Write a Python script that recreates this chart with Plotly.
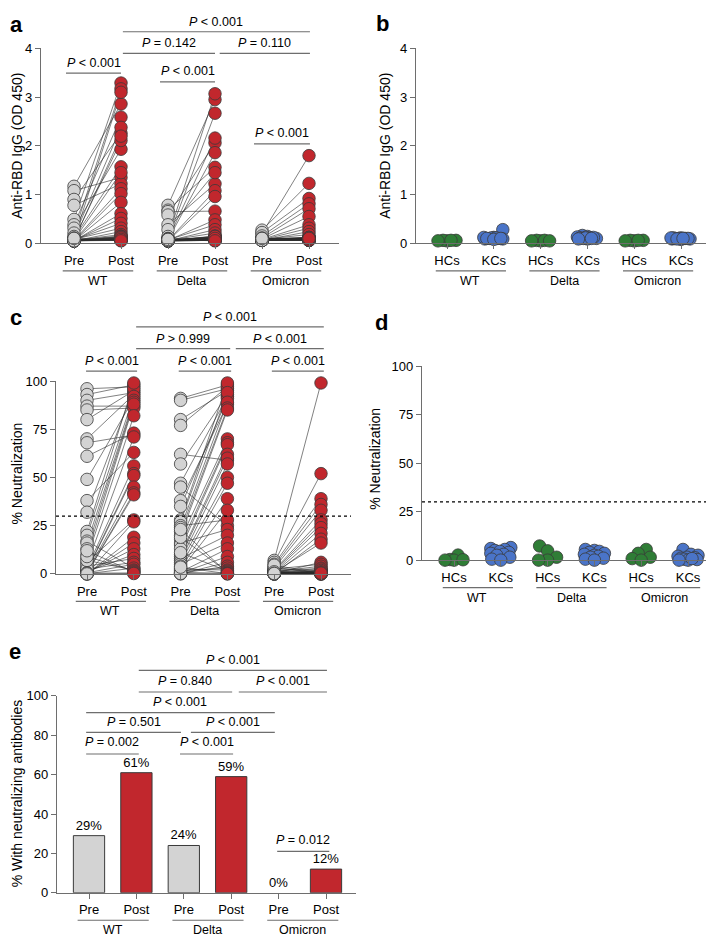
import math
import plotly.graph_objects as go

W, H = 714, 937
FONT = "Liberation Sans, Arial, sans-serif"

# ---------------- data ----------------
variants = ["WT", "Delta", "Omicron"]
ticks_pp = ["Pre", "Post", "Pre", "Post", "Pre", "Post"]
ticks_hk = ["HCs", "KCs", "HCs", "KCs", "HCs", "KCs"]

# panel a: anti-RBD IgG (OD 450), paired pre/post (n = 41)
a_wt_pre = [1.17, 1.08, 0.90, 0.78, 0.49, 0.38, 0.31, 0.21, 0.14, 0.11, 0.09, 0.08, 0.07, 0.06, 0.06, 0.05, 0.05, 0.05, 0.06, 0.07, 0.08,
            0.05, 0.06, 0.05, 0.07, 0.06, 0.05, 0.08, 0.06, 0.05, 0.07, 0.05, 0.06, 0.09, 0.05, 0.06, 0.07, 0.05, 0.06, 0.05, 0.10]
a_wt_post = [2.86, 1.35, 2.26, 1.22, 3.29, 2.59, 1.93, 3.17, 2.38, 1.57, 3.10, 2.11, 1.45, 2.20, 1.12, 1.02, 0.84, 0.61, 0.51, 0.41, 0.31,
             0.24, 0.18, 0.11, 0.06, 0.15, 0.10, 0.08, 0.12, 0.09, 0.07, 0.14, 0.10, 0.08, 0.06, 0.13, 0.09, 0.07, 0.11, 0.08, 0.05]
a_delta_pre = [0.78, 0.68, 0.65, 0.58, 0.38, 0.28, 0.14, 0.10, 0.08, 0.07, 0.06, 0.05, 0.06, 0.07, 0.05, 0.06, 0.05, 0.08, 0.06, 0.05, 0.07,
               0.05, 0.06, 0.09, 0.05, 0.06, 0.07, 0.05, 0.06, 0.05, 0.08, 0.06, 0.05, 0.07, 0.06, 0.05, 0.06, 0.07, 0.05, 0.06, 0.08]
a_delta_post = [2.95, 1.56, 0.66, 2.06, 1.22, 1.45, 3.07, 2.67, 2.16, 1.86, 1.08, 0.96, 0.48, 0.38, 0.28, 0.21, 0.14, 0.07, 0.12, 0.10, 0.09,
                0.15, 0.08, 0.11, 0.06, 0.13, 0.10, 0.09, 0.07, 0.12, 0.08, 0.11, 0.06, 0.10, 0.09, 0.07, 0.14, 0.08, 0.06, 0.10, 0.05]
a_om_pre = [0.20, 0.27, 0.22, 0.15, 0.11, 0.09, 0.08, 0.07, 0.06, 0.08, 0.07, 0.06, 0.09, 0.08, 0.07, 0.06, 0.08, 0.07, 0.06, 0.09, 0.08,
            0.07, 0.06, 0.08, 0.07, 0.06, 0.09, 0.08, 0.07, 0.06, 0.08, 0.07, 0.06, 0.09, 0.08, 0.07, 0.06, 0.08, 0.07, 0.06, 0.10]
a_om_post = [1.80, 1.23, 0.92, 0.81, 0.71, 0.55, 0.38, 0.31, 0.24, 0.18, 0.11, 0.09, 0.12, 0.08, 0.10, 0.07, 0.09, 0.11, 0.08, 0.06, 0.10,
             0.09, 0.07, 0.12, 0.08, 0.06, 0.10, 0.09, 0.07, 0.11, 0.08, 0.06, 0.10, 0.09, 0.07, 0.12, 0.08, 0.06, 0.09, 0.07, 0.10]

# panel b: anti-RBD IgG (OD 450), healthy (HCs) / kidney (KCs) controls
b_hc_wt = [0.06, 0.05, 0.06, 0.05, 0.06]
b_kc_wt = [0.28, 0.12, 0.10, 0.11, 0.09, 0.10, 0.12, 0.09, 0.10, 0.11, 0.08, 0.10]
b_hc_delta = [0.05, 0.06, 0.05, 0.06, 0.05]
b_kc_delta = [0.16, 0.14, 0.13, 0.12, 0.11, 0.10, 0.09, 0.12, 0.10, 0.11, 0.09, 0.10]
b_hc_om = [0.06, 0.05, 0.06, 0.05, 0.06]
b_kc_om = [0.11, 0.10, 0.09, 0.10, 0.11, 0.09, 0.10, 0.08, 0.11, 0.10, 0.09, 0.10]

# panel c: % neutralization, paired pre/post (n = 41)
c_wt_pre = [96, 93, 90, 87, 85, 80, 70, 68, 61, 49, 38, 32,
            22, 20, 17, 16, 13, 10, 8, 6, 5, 3, 2, 1.5, 1, 0.5, 0.3, 0, 0, 0.2, 0.8, 1.2, 4, 2.5, 0.6, 0.1, 7, 9, 12, 0.4, 0]
c_wt_post = [97, 98, 94, 87, 86, 95, 93, 72, 73, 91, 63, 96,
             99, 92, 3, 90, 89, 88, 82, 28, 71, 56, 52, 51, 45, 42, 41, 27, 19, 16, 13, 10, 8, 6, 5, 3, 2, 1.5, 1, 0.5, 0.2]
c_delta_pre = [91, 90, 80, 77, 62, 57, 47, 45, 38, 35,
               28, 27, 25, 24, 22, 20, 18, 16, 15, 13, 10, 9, 8, 7, 6, 5, 4, 3, 2, 1, 0.5, 0, 0.3, 1.5, 2.5, 11, 19, 23, 0.8, 0.2, 3.5]
c_delta_post = [98, 96, 95, 97, 59, 93, 92, 25, 88, 91,
                99, 94, 28, 89, 86, 85, 70, 23, 68, 67, 62, 60, 20, 57, 50, 16, 47, 39, 33, 13, 9, 6, 4, 3, 2, 1.5, 1, 0.5, 0.3, 0, 0.1]
c_om_pre = [7, 6, 5, 4, 3, 2, 1.5, 1, 0.5, 0, 0.8, 0.3, 2.5, 1.2, 0.6, 0.2, 0, 0.4, 1.8, 0.9, 0.1,
            3.5, 0.7, 0.3, 0, 1, 0.5, 2.2, 0.2, 0.6, 0, 1.4, 0.8, 0.3, 4.5, 0.1, 0.5, 0, 1.1, 0.4, 0.2]
c_om_post = [99, 52, 39, 36, 33, 28, 26, 24, 21, 18, 16, 6, 5, 4, 3, 2, 1.5, 1, 0.5, 0.2, 0,
             0.3, 0.8, 1.2, 0.6, 0.1, 0, 2.5, 0.4, 0.9, 0.2, 1.8, 0.7, 0, 0.3, 0.5, 1.1, 0.2, 0, 0.6, 0.4]

# panel d: % neutralization, controls
d_hc_wt = [2.6, 0.3, 0.0, 0.0, 0.2]
d_kc_wt = [6.5, 6.0, 5.5, 5.0, 4.5, 4.0, 3.5, 3.0, 2.5, 1.5, 0.5, 0.0]
d_hc_delta = [7.3, 4.8, 1.5, 0.0, 0.0]
d_kc_delta = [5.5, 5.0, 4.5, 4.0, 3.5, 3.0, 2.5, 2.0, 1.5, 1.0, 0.5, 0.0]
d_hc_om = [5.5, 3.5, 1.5, 0.8, 0.0]
d_kc_om = [5.5, 3.0, 2.5, 2.0, 1.5, 1.2, 1.0, 0.5, 0.3, 0.0, 0.0, 0.8]

# panel e: % with neutralizing antibodies
e_values = [29, 61, 24, 59, 0, 12]

# ---------------- style ----------------
GREY = "#D3D3D3"
RED = "#C1272D"
GREEN = "#2F7D36"
BLUE = "#4A74C8"
OUTLINE = "#3A3A3A"
AXC = "#6E6E6E"

# panel geometry (pixels)
panels = {
    "a": dict(n=1, xd=(33, 331), yd=(34, 232), c0=66, sp=47.0, yr=[0, 4], ytv=[0, 1, 2, 3, 4], tt=ticks_pp),
    "b": dict(n=2, xd=(408, 703), yd=(34, 232), c0=439, sp=46.8, yr=[0, 4], ytv=[0, 1, 2, 3, 4], tt=ticks_hk),
    "c": dict(n=3, xd=(48, 343), yd=(372, 568), c0=79, sp=46.8, yr=[0, 100], ytv=[0, 25, 50, 75, 100], tt=ticks_pp),
    "d": dict(n=4, xd=(414, 712), yd=(357, 554), c0=446, sp=46.8, yr=[0, 100], ytv=[0, 25, 50, 75, 100], tt=ticks_hk),
    "e": dict(n=5, xd=(49, 348), yd=(692, 892), c0=81, sp=47.4, yr=[0, 100], ytv=[0, 20, 40, 60, 80, 100], tt=ticks_pp),
}


def ppy(p):
    return 1 - p / H


def ppx(p):
    return p / W


fig = go.Figure()
layout = dict(width=W, height=H, margin=dict(l=0, r=0, t=0, b=0), showlegend=False,
              paper_bgcolor="white", plot_bgcolor="white",
              font=dict(family=FONT, color="black", size=13))
shapes, annotations = [], []

for key, p in panels.items():
    s = "" if p["n"] == 1 else str(p["n"])
    xr = [(p["xd"][0] - p["c0"]) / p["sp"], (p["xd"][1] - p["c0"]) / p["sp"]]
    p["xr"] = xr
    layout["xaxis" + s] = dict(domain=[ppx(p["xd"][0]), ppx(p["xd"][1])], range=xr, anchor="y" + s,
                               tickvals=list(range(6)), ticktext=p["tt"], ticks="outside", ticklen=5,
                               tickcolor=AXC, tickwidth=1.2, showline=True, linecolor=AXC, linewidth=1.3,
                               showgrid=False, zeroline=False, tickfont=dict(size=13, color="black"))
    layout["yaxis" + s] = dict(domain=[ppy(p["yd"][1]), ppy(p["yd"][0])], range=p["yr"], anchor="x" + s,
                               tickvals=p["ytv"], ticks="outside", ticklen=5, tickcolor=AXC, tickwidth=1.2,
                               showline=True, linecolor=AXC, linewidth=1.3, showgrid=False, zeroline=False,
                               tickfont=dict(size=13, color="black"))
    # group underlines and labels
    base = p["yd"][1]
    for g, name in enumerate(variants):
        shapes.append(dict(type="line", xref="x" + s, yref="paper", x0=2 * g - 0.24, x1=2 * g + 1.26,
                           y0=ppy(base + 28), y1=ppy(base + 28), line=dict(color=AXC, width=1.2)))
        annotations.append(dict(xref="x" + s, yref="paper", x=2 * g + 0.5, y=ppy(base + 38), text=name,
                                showarrow=False, font=dict(size=12.5), xanchor="center", yanchor="middle"))


def paired(s, pre_post):
    for g, (pre, post) in enumerate(pre_post):
        lx, ly = [], []
        for a, b in zip(pre, post):
            lx += [2 * g, 2 * g + 1, None]
            ly += [a, b, None]
        fig.add_trace(go.Scatter(x=lx, y=ly, mode="lines", line=dict(color="#2b2b2b", width=0.6),
                                 xaxis="x" + s, yaxis="y" + s, hoverinfo="skip", cliponaxis=False))
    for g, (pre, post) in enumerate(pre_post):
        for j, (vals, col) in enumerate([(pre, GREY), (post, RED)]):
            fig.add_trace(go.Scatter(x=[2 * g + j] * len(vals), y=vals, mode="markers",
                                     marker=dict(size=12.5, color=col, line=dict(color=OUTLINE, width=0.8)),
                                     xaxis="x" + s, yaxis="y" + s, cliponaxis=False))


def swarm(vals, xppu, yppu, half_w, dmin):
    placed = []
    res = [0.0] * len(vals)
    cands = sorted(range(-half_w, half_w + 1), key=lambda c: (abs(c), c))
    for i in sorted(range(len(vals)), key=lambda i: vals[i]):
        yv = vals[i] * yppu
        best, bestd = 0, -1.0
        for c in cands:
            d = min((math.hypot(c - a, yv - b) for a, b in placed), default=1e9)
            if d >= dmin:
                best = c
                break
            if d > bestd:
                best, bestd = c, d
        placed.append((best, yv))
        res[i] = best / xppu
    return res


def controls(key, groups):
    p = panels[key]
    s = "" if p["n"] == 1 else str(p["n"])
    yppu = (p["yd"][1] - p["yd"][0]) / (p["yr"][1] - p["yr"][0])
    for k, vals in enumerate(groups):
        offs = swarm(vals, p["sp"], yppu, 10, 9)
        fig.add_trace(go.Scatter(x=[k + o for o in offs], y=vals, mode="markers",
                                 marker=dict(size=12.5, color=GREEN if k % 2 == 0 else BLUE,
                                             line=dict(color=OUTLINE, width=0.8)),
                                 xaxis="x" + s, yaxis="y" + s, cliponaxis=False))


paired("", [(a_wt_pre, a_wt_post), (a_delta_pre, a_delta_post), (a_om_pre, a_om_post)])
controls("b", [b_hc_wt, b_kc_wt, b_hc_delta, b_kc_delta, b_hc_om, b_kc_om])
paired("3", [(c_wt_pre, c_wt_post), (c_delta_pre, c_delta_post), (c_om_pre, c_om_post)])
controls("d", [d_hc_wt, d_kc_wt, d_hc_delta, d_kc_delta, d_hc_om, d_kc_om])

fig.add_trace(go.Bar(x=list(range(6)), y=e_values, width=0.66,
                     marker=dict(color=[GREY, RED] * 3,
                                 line=dict(color=OUTLINE, width=[1 if v > 0 else 0 for v in e_values])),
                     text=[f"{v}%" for v in e_values], textposition="outside",
                     textfont=dict(size=13, color="black"), cliponaxis=False,
                     xaxis="x5", yaxis="y5"))

# dotted 30% threshold
for key in ("c", "d"):
    p = panels[key]
    s = str(p["n"])
    shapes.append(dict(type="line", xref="x" + s, yref="y" + s, x0=p["xr"][0], x1=p["xr"][1], y0=30, y1=30,
                       line=dict(color="black", width=1.2, dash="dot")))

# significance brackets: (panel, x0, x1, line_y_px, text_y_px, text)
brackets = [
    ("a", 1.04, 5.02, 17, 7, "<i>P</i> &lt; 0.001"),
    ("a", 1.04, 3.0, 39, 28, "<i>P</i> = 0.142"),
    ("a", 3.1, 5.02, 39, 28, "<i>P</i> = 0.110"),
    ("a", -0.17, 1.0, 59, 49, "<i>P</i> &lt; 0.001"),
    ("a", 1.83, 3.0, 68, 57, "<i>P</i> &lt; 0.001"),
    ("a", 3.83, 5.02, 131, 120, "<i>P</i> &lt; 0.001"),
    ("c", 1.05, 5.06, 317, 307, "<i>P</i> &lt; 0.001"),
    ("c", 1.05, 3.06, 339, 329, "<i>P</i> &gt; 0.999"),
    ("c", 3.18, 5.06, 339, 329, "<i>P</i> &lt; 0.001"),
    ("c", -0.02, 1.07, 362, 352, "<i>P</i> &lt; 0.001"),
    ("c", 1.96, 3.08, 362, 352, "<i>P</i> &lt; 0.001"),
    ("c", 3.95, 5.06, 362, 352, "<i>P</i> &lt; 0.001"),
    ("e", 1.05, 5.02, 666, 655, "<i>P</i> &lt; 0.001"),
    ("e", 1.05, 3.02, 688, 677, "<i>P</i> = 0.840"),
    ("e", 3.16, 5.02, 688, 677, "<i>P</i> &lt; 0.001"),
    ("e", -0.06, 3.92, 709, 698, "<i>P</i> &lt; 0.001"),
    ("e", -0.06, 1.94, 729, 719, "<i>P</i> = 0.501"),
    ("e", 2.15, 3.92, 729, 719, "<i>P</i> &lt; 0.001"),
    ("e", -0.06, 1.05, 751, 739, "<i>P</i> = 0.002"),
    ("e", 1.92, 3.04, 751, 739, "<i>P</i> &lt; 0.001"),
    ("e", 3.97, 5.07, 850, 838, "<i>P</i> = 0.012"),
]
for key, x0, x1, ly, ty, txt in brackets:
    n = panels[key]["n"]
    s = "" if n == 1 else str(n)
    shapes.append(dict(type="line", xref="x" + s, yref="paper", x0=x0, x1=x1, y0=ppy(ly), y1=ppy(ly),
                       line=dict(color=AXC, width=1.2)))
    annotations.append(dict(xref="x" + s, yref="paper", x=(x0 + x1) / 2, y=ppy(ty), text=txt, showarrow=False,
                            font=dict(size=12.5), xanchor="center", yanchor="middle"))

# axis titles (anchor x compensates for the rotated box offset)
titles = [
    (9, 133, "Anti-RBD IgG (OD 450)"),
    (377, 133, "Anti-RBD IgG (OD 450)"),
    (9, 466, "% Neutralization"),
    (367, 451, "% Neutralization"),
    (9, 791, "% With neutralizing antibodies"),
]
for x, y, t in titles:
    annotations.append(dict(xref="paper", yref="paper", x=ppx(x), y=ppy(y), text=t, textangle=-90,
                            showarrow=False, font=dict(size=14), xanchor="center", yanchor="middle"))

# panel letters
letters = [(8, 10, "a"), (374, 9, "b"), (8, 307, "c"), (373, 313, "d"), (7, 647, "e")]
for x, y, t in letters:
    annotations.append(dict(xref="paper", yref="paper", x=ppx(x), y=ppy(y), text=f"<b>{t}</b>",
                            showarrow=False, font=dict(size=22), xanchor="center", yanchor="middle"))

layout["shapes"] = shapes
layout["annotations"] = annotations
fig.update_layout(**layout)
fig.write_html("out.html")
